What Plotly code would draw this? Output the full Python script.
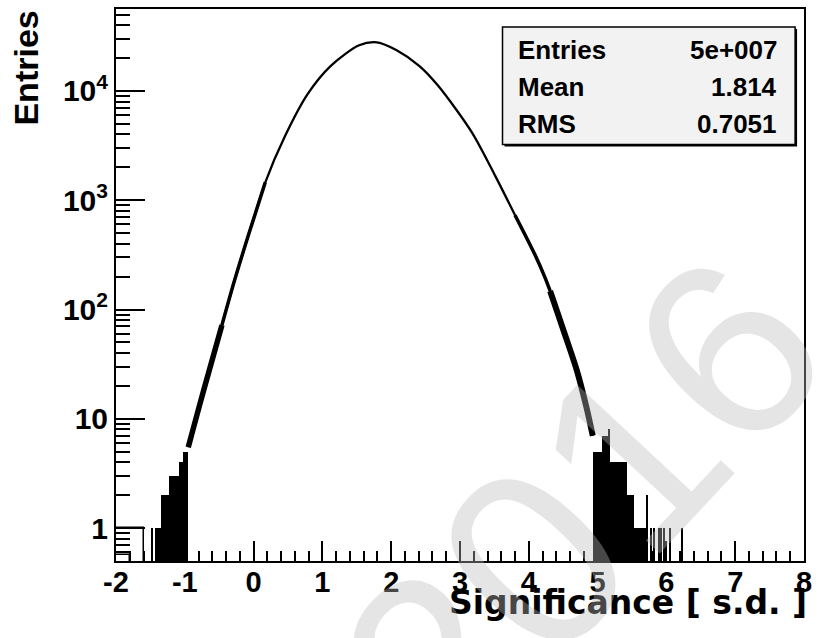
import plotly.graph_objects as go
import numpy as np

# ---------------- data ----------------
# main body of the histogram (smooth part)
body_x = [-0.95, -0.79, -0.65, -0.46, -0.28, -0.075, 0.17, 0.457, 0.787, 1.118,
          1.534, 1.793, 2.08, 2.411, 2.68, 3.17, 3.51, 3.80, 4.09, 4.23,
          4.31, 4.51, 4.70, 4.84, 4.93]
body_y = [5.5, 13, 27, 72, 182, 480, 1460, 3870, 9400, 16900,
          26200, 27900, 23600, 16900, 11200, 4200, 1680, 730, 317, 200,
          148, 63, 27.5, 12.6, 7.0]

# blocky tails (solid-looking groups of bins)
left_edges = [-1.44, -1.34, -1.195, -1.08, -1.02, -0.95]
left_vals = [1, 2, 3, 4, 5]
right_edges = [4.93, 5.07, 5.17, 5.43, 5.53, 5.72]
right_vals = [5, 7, 4, 2, 1]

# isolated single bins
spike_x = [-1.483, -1.21, 5.17, 5.34, 5.716, 5.773, 5.816, 5.888, 5.917, 5.96, 6.06, 6.233]
spike_y = [1, 3, 8, 4, 2, 1, 1, 1, 1, 1, 1, 1]

# outlined low bins at the far left
hollow_edges = [[-2.0, -1.6], [-2.0, -1.8]]
hollow_vals = [1.0, 0.57]

x_ticks = [-2, -1, 0, 1, 2, 3, 4, 5, 6, 7, 8]
y_ticks = [1, 10, 100, 1000, 10000]
y_ticktext = ["1", "10", "10<sup>2</sup>", "10<sup>3</sup>", "10<sup>4</sup>"]

stats_names = ["Entries", "Mean", "RMS"]
stats_values = ["5e+007", "1.814", "0.7051"]

# ---------------- geometry helpers ----------------
W, H = 819, 638
L, R, T, B = 116, 812, 7, 561
def px(x):
    return (x - L) / (R - L)
def py(y):
    return (B - y) / (B - T)

FONT = "Liberation Sans"
WIDE = "DejaVu Sans"

fig = go.Figure()

def edges_to_bars(edges, vals):
    c = [(edges[i] + edges[i + 1]) / 2 for i in range(len(vals))]
    w = [edges[i + 1] - edges[i] for i in range(len(vals))]
    return c, w

lc, lw = edges_to_bars(left_edges, left_vals)
rc, rw = edges_to_bars(right_edges, right_vals)

fig.add_trace(go.Bar(x=lc + rc, y=left_vals + right_vals, width=lw + rw,
                     marker=dict(color="black", line=dict(width=0)),
                     showlegend=False, hoverinfo="skip"))
fig.add_trace(go.Bar(x=spike_x, y=spike_y, width=[0.016] * len(spike_x),
                     marker=dict(color="black", line=dict(width=0)),
                     showlegend=False, hoverinfo="skip"))
hc = [(a + b) / 2 for a, b in hollow_edges]
hw = [b - a for a, b in hollow_edges]
fig.add_trace(go.Bar(x=hc, y=hollow_vals, width=hw,
                     marker=dict(color="rgba(0,0,0,0)", line=dict(width=1.5, color="black")),
                     showlegend=False, hoverinfo="skip"))

def curve(sl, w):
    fig.add_trace(go.Scatter(x=body_x[sl], y=body_y[sl], mode="lines",
                             line=dict(color="black", width=w, shape="spline", smoothing=0.8),
                             showlegend=False, hoverinfo="skip"))

curve(slice(None), 2.3)
# noisier (thicker-looking) tail segments
curve(slice(3, 7), 3.5)
curve(slice(0, 4), 5.5)
curve(slice(17, 21), 3.5)
curve(slice(20, None), 6)

minor_y = []
for d in [0.1, 1, 10, 100, 1000, 10000]:
    for k in range(2, 10):
        v = k * d
        if 0.5 <= v <= 55000:
            minor_y.append(v)

fig.update_layout(
    width=W, height=H,
    margin=dict(l=L, r=W - R, t=T, b=H - B),
    paper_bgcolor="white", plot_bgcolor="white",
    bargap=0, barmode="overlay",
    font=dict(family=FONT, color="black"),
    xaxis=dict(range=[-2, 8], tickvals=x_ticks, ticktext=[str(v) for v in x_ticks],
               ticks="inside", ticklen=20, tickwidth=1.5, tickcolor="black",
               minor=dict(dtick=0.2, ticks="inside", ticklen=10, tickwidth=1.5, tickcolor="black", showgrid=False),
               showline=True, linewidth=2, linecolor="black", mirror=True,
               showgrid=False, zeroline=False, ticklabelstandoff=-6,
               tickfont=dict(size=29, family=FONT, weight="bold")),
    yaxis=dict(type="log", range=[np.log10(0.5), 4.75], tickvals=y_ticks, ticktext=y_ticktext,
               ticks="inside", ticklen=29, tickwidth=1.5, tickcolor="black",
               minor=dict(tickvals=minor_y, ticks="inside", ticklen=14, tickwidth=1.5, tickcolor="black", showgrid=False),
               showline=True, linewidth=2, linecolor="black", mirror=True,
               showgrid=False, zeroline=False,
               tickfont=dict(size=30, family=FONT, weight="bold")),
)

# stats box (with small shadow)
bx0, bx1, by0, by1 = 507, 803, 25, 143
fig.add_shape(type="rect", xref="paper", yref="paper",
              x0=px(bx0 + 2), x1=px(bx1 + 2), y0=py(by1 + 2), y1=py(by0 + 2),
              fillcolor="black", line=dict(width=0))
fig.add_shape(type="rect", xref="paper", yref="paper",
              x0=px(bx0), x1=px(bx1), y0=py(by1), y1=py(by0),
              fillcolor="#f2f2f2", line=dict(width=1.5, color="black"))
rows_y = [48, 85, 122]
for name, val, ry in zip(stats_names, stats_values, rows_y):
    fig.add_annotation(xref="paper", yref="paper", x=px(521), y=py(ry), text=name,
                       showarrow=False, xanchor="left", yanchor="middle",
                       font=dict(size=26, family=FONT, weight="bold"))
    fig.add_annotation(xref="paper", yref="paper", x=px(787), y=py(ry), text=val,
                       showarrow=False, xanchor="right", yanchor="middle",
                       font=dict(size=26, family=FONT, weight="bold"))

# axis titles
fig.add_annotation(xref="paper", yref="paper", x=px(24), y=py(7), text="Entries",
                   textangle=-90, showarrow=False, xanchor="center", yanchor="top",
                   font=dict(size=34, family=FONT, weight="bold"))
fig.add_annotation(xref="paper", yref="paper", x=px(817), y=py(603),
                   text="Significance [ s.d. ]", showarrow=False,
                   xanchor="right", yanchor="middle",
                   font=dict(size=33, family=WIDE, weight="bold"))

# watermark
fig.add_annotation(xref="paper", yref="paper", x=px(587), y=py(507), text="2016",
                   textangle=-47, showarrow=False, xanchor="center", yanchor="middle",
                   font=dict(size=255, family="Liberation Sans", color="rgba(186,186,186,0.38)"))

fig.write_html("out.html")
